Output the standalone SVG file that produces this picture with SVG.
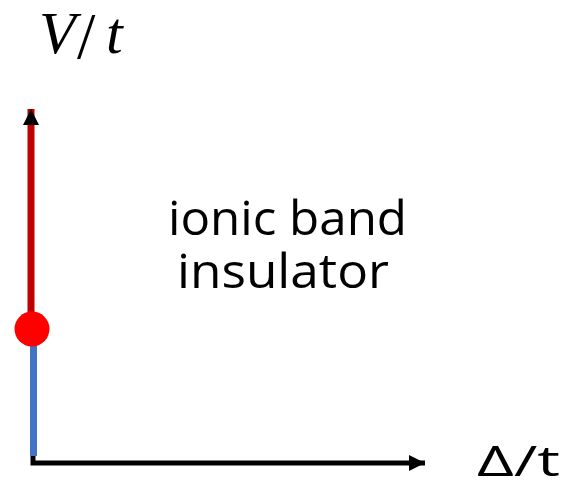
<svg xmlns="http://www.w3.org/2000/svg" width="565" height="490" viewBox="0 0 565 490">
<style>
.lbl{font-family:"Open Sans","Liberation Sans",sans-serif;fill:#000}
.math{font-family:"Liberation Serif","DejaVu Serif",serif;font-style:italic;fill:#000}
</style>
<defs>
<marker id="ah" markerUnits="userSpaceOnUse" markerWidth="18" markerHeight="18" refX="16" refY="8" orient="auto">
<path d="M0,0 L16,8 L0,16 Z" fill="#000"/>
</marker>
</defs>
<rect width="565" height="490" fill="#fff"/>
<g id="connectors">
<line x1="31" y1="320" x2="31" y2="109" stroke="#c00000" stroke-width="7" marker-end="url(#ah)"/>
<line x1="33.5" y1="336" x2="33.5" y2="456" stroke="#4472c4" stroke-width="7"/>
<polyline points="33,456 33,463 425,463" fill="none" stroke="#000" stroke-width="5" marker-end="url(#ah)"/>
</g>
<g id="critical-point">
<circle cx="32" cy="329" r="17.5" fill="#ff0000"/>
</g>
<g id="axis-v">
<text class="math" font-size="60" y="53"><tspan x="39">V</tspan><tspan x="77" y="58" font-size="66" font-style="normal">/</tspan><tspan x="106" y="53">t</tspan></text>
</g>
<g id="axis-delta">
<text class="lbl" font-size="42" x="477" y="476" textLength="83" lengthAdjust="spacingAndGlyphs">Δ/t</text>
</g>
<g id="region-label">
<text class="lbl" font-size="48" x="168" y="235" textLength="239" lengthAdjust="spacingAndGlyphs">ionic band</text>
<text class="lbl" font-size="48" x="177" y="288" textLength="212" lengthAdjust="spacingAndGlyphs">insulator</text>
</g>
</svg>
